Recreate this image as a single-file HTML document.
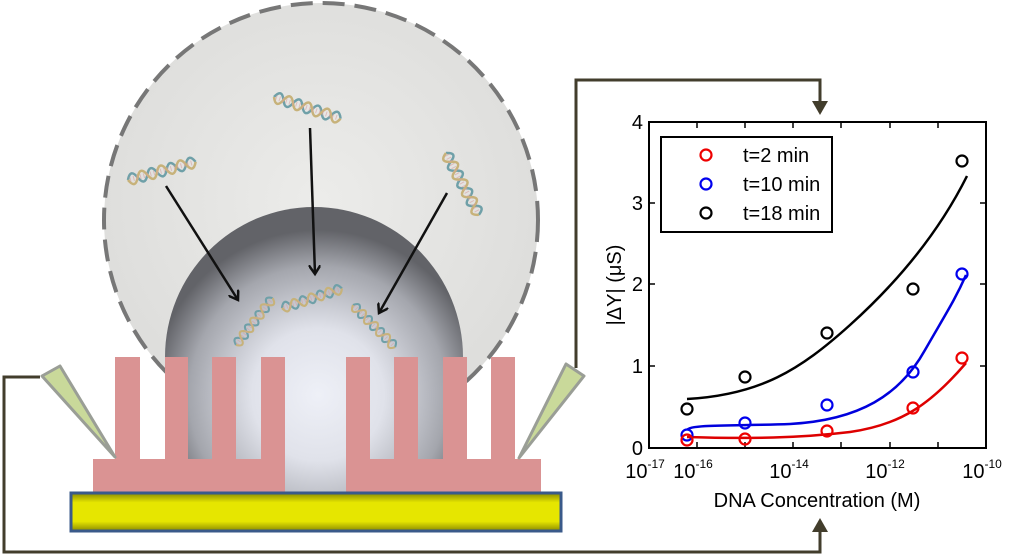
<!DOCTYPE html>
<html><head><meta charset="utf-8"><style>
body{margin:0;background:#fff;}
svg{display:block;font-family:"Liberation Sans",sans-serif;}
</style></head><body>
<svg width="1029" height="556" viewBox="0 0 1029 556" xmlns="http://www.w3.org/2000/svg">
<defs>
<radialGradient id="sph" cx="318" cy="395" r="165" gradientUnits="userSpaceOnUse">
<stop offset="0" stop-color="#eef0f7"/><stop offset="0.4" stop-color="#e0e2ea"/><stop offset="0.78" stop-color="#a4a6ad"/><stop offset="1" stop-color="#626368"/>
</radialGradient>
<radialGradient id="bg" cx="320" cy="200" r="220" gradientUnits="userSpaceOnUse">
<stop offset="0" stop-color="#ececea"/><stop offset="1" stop-color="#dededc"/>
</radialGradient>
<linearGradient id="yel" x1="0" y1="0" x2="0" y2="1">
<stop offset="0" stop-color="#8a8a00"/><stop offset="0.25" stop-color="#e6e600"/><stop offset="0.75" stop-color="#e6e600"/><stop offset="1" stop-color="#8a8a00"/>
</linearGradient>
<g id="dna">
<path d="M0,0 q5,-11 10,0 t10,0 t10,0 t10,0 t10,0 t10,0 t10,0" fill="none" stroke="#6fa0a8" stroke-width="2.5"/>
<path d="M0,0 q5,11 10,0 t10,0 t10,0 t10,0 t10,0 t10,0 t10,0" fill="none" stroke="#c7b27a" stroke-width="2.5"/>
<path d="M2,0h66" stroke="#d8a0a0" stroke-width="5" stroke-dasharray="1,2.5" opacity="0.6"/>
</g>
<marker id="ah" markerWidth="12" markerHeight="12" refX="9" refY="6" orient="auto" markerUnits="userSpaceOnUse"><path d="M0,0 L9,6 L0,12" fill="none" stroke="#111" stroke-width="2.5"/></marker>
</defs>

<circle cx="321" cy="220" r="217" fill="url(#bg)" stroke="#777" stroke-width="4" stroke-dasharray="22,10"/>
<path d="M165,357 A149,150 0 0 1 463,357 L463,492 L165,492 Z" fill="url(#sph)"/>

<use href="#dna" transform="translate(128,180) rotate(-15)"/>
<use href="#dna" transform="translate(274,97) rotate(18)"/>
<use href="#dna" transform="translate(446,153) rotate(62)"/>
<use href="#dna" transform="translate(236,345) rotate(-52) scale(0.85)"/>
<use href="#dna" transform="translate(282,308) rotate(-18) scale(0.9)"/>
<use href="#dna" transform="translate(353,305) rotate(45) scale(0.85)"/>

<line x1="166" y1="186" x2="238" y2="300" stroke="#111" stroke-width="2.5" marker-end="url(#ah)"/>
<line x1="310" y1="128" x2="315" y2="274" stroke="#111" stroke-width="2.5" marker-end="url(#ah)"/>
<line x1="447" y1="193" x2="379" y2="313" stroke="#111" stroke-width="2.5" marker-end="url(#ah)"/>

<g fill="#da9393">
<rect x="93" y="459" width="192" height="34"/>
<rect x="115" y="357" width="25" height="102"/><rect x="165" y="357" width="23" height="102"/>
<rect x="212" y="357" width="24" height="102"/><rect x="261" y="357" width="24" height="102"/>
<rect x="346" y="459" width="195" height="34"/>
<rect x="346" y="357" width="24" height="102"/><rect x="394" y="357" width="24" height="102"/>
<rect x="443" y="357" width="24" height="102"/><rect x="491" y="357" width="24" height="102"/>
</g>
<rect x="71" y="493" width="490" height="38" fill="url(#yel)" stroke="#3a5a8a" stroke-width="3"/>

<polyline points="40,377 4,377 4,552 820,552 820,528" fill="none" stroke="#423d2c" stroke-width="3"/>
<path d="M812,532 L820,518 L828,532 Z" fill="#423d2c"/>
<polyline points="576,368 576,80 820,80 820,105" fill="none" stroke="#423d2c" stroke-width="3"/>
<path d="M812,101 L820,115 L828,101 Z" fill="#423d2c"/>

<polygon points="42,376 60,366 115,457" fill="#c9d99a" stroke="#9a9e96" stroke-width="3" stroke-linejoin="round"/>
<polygon points="566,364 584,376 519,458" fill="#c9d99a" stroke="#9a9e96" stroke-width="3" stroke-linejoin="round"/>

<rect x="649" y="122" width="337" height="326" fill="#fff" stroke="#000" stroke-width="2"/>
<g stroke="#000" stroke-width="1.5">
<line x1="649" y1="203" x2="655" y2="203"/><line x1="649" y1="284" x2="655" y2="284"/><line x1="649" y1="366" x2="655" y2="366"/>
<line x1="986" y1="203" x2="980" y2="203"/><line x1="986" y1="284" x2="980" y2="284"/><line x1="986" y1="366" x2="980" y2="366"/>
<line x1="697" y1="448" x2="697" y2="442"/><line x1="745" y1="448" x2="745" y2="442"/><line x1="793" y1="448" x2="793" y2="442"/><line x1="841" y1="448" x2="841" y2="442"/><line x1="890" y1="448" x2="890" y2="442"/><line x1="938" y1="448" x2="938" y2="442"/>
<line x1="697" y1="122" x2="697" y2="128"/><line x1="745" y1="122" x2="745" y2="128"/><line x1="793" y1="122" x2="793" y2="128"/><line x1="841" y1="122" x2="841" y2="128"/><line x1="890" y1="122" x2="890" y2="128"/><line x1="938" y1="122" x2="938" y2="128"/>
</g>
<g font-size="20" text-anchor="end">
<text x="643" y="129">4</text><text x="643" y="210">3</text><text x="643" y="291">2</text><text x="643" y="373">1</text><text x="643" y="455">0</text>
</g>
<g font-size="20" text-anchor="middle">
<text x="645" y="478">10<tspan font-size="12" dy="-10">-17</tspan></text>
<text x="693" y="478">10<tspan font-size="12" dy="-10">-16</tspan></text>
<text x="789" y="478">10<tspan font-size="12" dy="-10">-14</tspan></text>
<text x="885" y="478">10<tspan font-size="12" dy="-10">-12</tspan></text>
<text x="982" y="478">10<tspan font-size="12" dy="-10">-10</tspan></text>
<text x="817" y="507">DNA Concentration (M)</text>
<text transform="translate(621,285) rotate(-90)">|ΔY| (μS)</text>
</g>
<path d="M687,399 C760,395 800,370 850,325 C900,280 940,230 967,176" fill="none" stroke="#000" stroke-width="2.5"/>
<path d="M687,430 C690,424 740,426 790,424 C860,420 900,395 925,350 C945,315 955,300 966,275" fill="none" stroke="#0000dd" stroke-width="2.5"/>
<path d="M687,437 C750,439 800,438 850,432 C900,425 930,405 966,363" fill="none" stroke="#dd0000" stroke-width="2.5"/>
<g fill="none" stroke-width="2.2">
<g stroke="#000"><circle cx="687" cy="409" r="5.5"/><circle cx="745" cy="377" r="5.5"/><circle cx="827" cy="333" r="5.5"/><circle cx="913" cy="289" r="5.5"/><circle cx="962" cy="161" r="5.5"/></g>
<g stroke="#0000ee"><circle cx="687" cy="435" r="5.5"/><circle cx="745" cy="423" r="5.5"/><circle cx="827" cy="405" r="5.5"/><circle cx="913" cy="372" r="5.5"/><circle cx="962" cy="274" r="5.5"/></g>
<g stroke="#ee0000"><circle cx="687" cy="440" r="5.5"/><circle cx="745" cy="439" r="5.5"/><circle cx="827" cy="431" r="5.5"/><circle cx="913" cy="408" r="5.5"/><circle cx="962" cy="358" r="5.5"/></g>
</g>
<rect x="661" y="137" width="171" height="95" fill="#fff" stroke="#000" stroke-width="2"/>
<g fill="none" stroke-width="2.2"><circle cx="706" cy="155" r="5.5" stroke="#ee0000"/><circle cx="706" cy="184" r="5.5" stroke="#0000ee"/><circle cx="706" cy="213" r="5.5" stroke="#000"/></g>
<g font-size="20"><text x="743" y="162">t=2 min</text><text x="743" y="191">t=10 min</text><text x="743" y="220">t=18 min</text></g>
</svg>
</body></html>
